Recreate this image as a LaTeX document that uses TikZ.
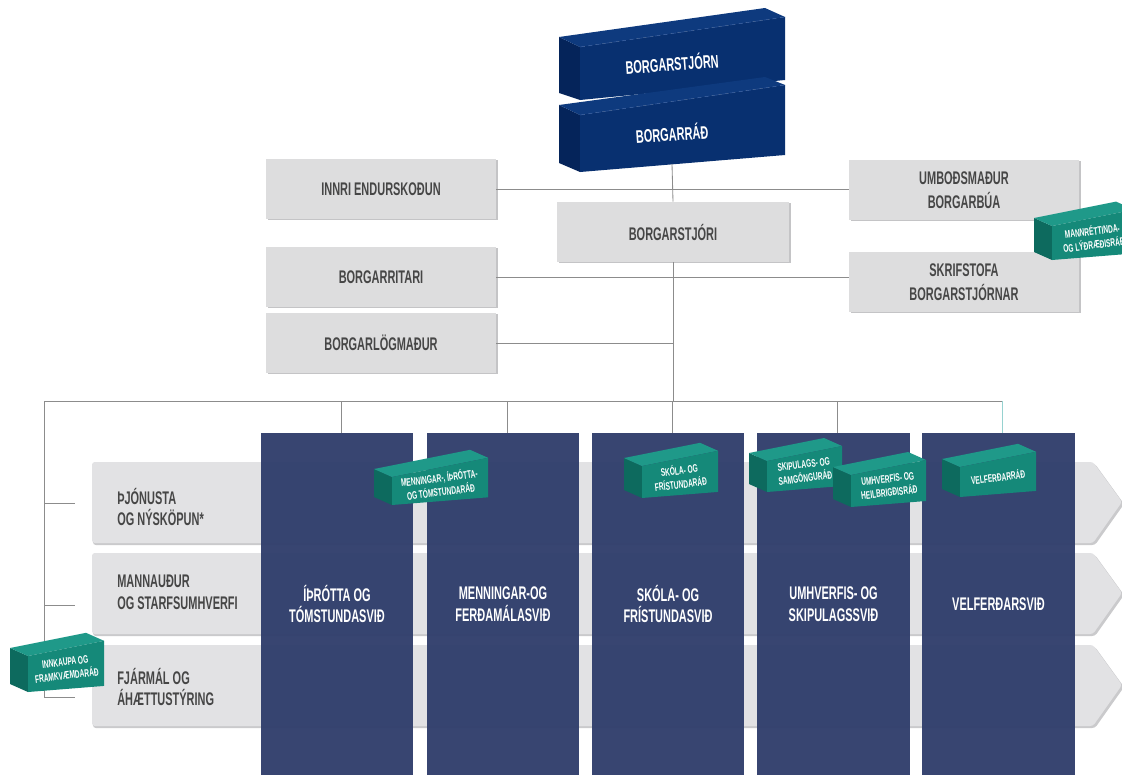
\documentclass[tikz,border=0pt]{standalone}
\usepackage{fontspec}
\newfontfamily\condfont{Liberation Sans}[FakeStretch=0.6]
\usetikzlibrary{shadows}

\definecolor{navyfront}{RGB}{8,48,112}
\definecolor{navytop}{RGB}{14,58,126}
\definecolor{navyside}{RGB}{5,36,90}
\definecolor{navyline}{RGB}{48,88,156}
\definecolor{boxgrey}{RGB}{221,221,222}
\definecolor{boxedge}{RGB}{196,196,198}
\definecolor{rowgrey}{RGB}{226,226,228}
\definecolor{rowedge}{RGB}{202,202,204}
\definecolor{colnavy}{RGB}{48,62,108}
\definecolor{tealfront}{RGB}{21,137,121}
\definecolor{tealtop}{RGB}{31,153,137}
\definecolor{tealside}{RGB}{13,106,94}
\definecolor{greytext}{RGB}{70,70,70}
\definecolor{linegrey}{RGB}{140,140,140}
\definecolor{lineteal}{RGB}{150,210,208}

\tikzset{
  greybox/.style={fill=boxgrey, text=greytext, minimum width=5.75cm, minimum height=1.5cm,
    inner sep=0pt, align=center, font=\condfont\bfseries\fontsize{13}{17}\selectfont,
    general shadow={fill=boxedge, shadow xshift=1.3pt, shadow yshift=-1pt}},
  colbox/.style={fill=colnavy, fill opacity=0.96, text opacity=1, text=white,
    minimum width=3.82cm, minimum height=8.55cm, inner sep=0pt, align=center,
    font=\condfont\bfseries\fontsize{13}{15.5}\selectfont},
  rowtext/.style={anchor=west, align=left, text=greytext, inner sep=0pt,
    font=\condfont\bfseries\fontsize{13}{15.5}\selectfont},
  navytext/.style={text=white, rotate=4, inner sep=0pt,
    font=\condfont\bfseries\fontsize{13}{15.5}\selectfont},
  tealtext/.style={text=white, rotate=7, inner sep=0pt, align=center,
    font=\condfont\bfseries\fontsize{7.8}{9.8}\selectfont}
}

% teal block: name, front top-left x, y, width, height, text
\newcommand{\tealblock}[6]{%
  \fill[tealside] (#2,#3) -- ++(-18,-8) -- ++(0,#5) -- ++(18,8) -- cycle;
  \fill[tealtop] (#2,#3) -- ++(-18,-8) -- ++(#4,-0.2*#4) -- ++(18,8) -- cycle;
  \fill[tealfront] (#2,#3) -- ++(#4,-0.2*#4) -- ++(0,#5+0.12*#4) -- ++(-#4,0.08*#4) -- cycle;
  \node[tealtext] (#1) at (#2+0.5*#4, #3+0.5*#5-0.07*#4) {#6};
}

\begin{document}
\begin{tikzpicture}[x=0.025cm, y=-0.025cm]
\useasboundingbox (0,0) rectangle (1122,775);
\clip (0,0) rectangle (1122,775);
\fill[white] (0,0) rectangle (1122,775);

% rows
\begin{scope}[rounded corners=2pt]
  \foreach \t in {462,553,645} {
    \fill[rowedge] (93,\t+2) -- (1095,\t+2) -- (1124,\t+42) -- (1095,\t+83) -- (93,\t+83) -- cycle;
    \fill[rowgrey] (92,\t) -- (1093,\t) -- (1122,\t+40) -- (1093,\t+81) -- (92,\t+81) -- cycle;
  }
\end{scope}
\node[rowtext] (service) at (117,507) {ÞJÓNUSTA\\OG NÝSKÖPUN*};
\node[rowtext] (people) at (117,592) {MANNAUÐUR\\OG STARFSUMHVERFI};
\node[rowtext] (finance) at (117,687) {FJÁRMÁL OG\\ÁHÆTTUSTÝRING};

% departments
\node[colbox] (sport) at (337,604) {ÍÞRÓTTA OG\\TÓMSTUNDASVIÐ};
\node[colbox] (culture) at (503,604) {MENNINGAR-OG\\FERÐAMÁLASVIÐ};
\node[colbox] (school) at (668,604) {SKÓLA- OG\\FRÍSTUNDASVIÐ};
\node[colbox] (environ) at (833.5,604) {UMHVERFIS- OG\\SKIPULAGSSVIÐ};
\node[colbox] (welfare) at (998.5,604) {VELFERÐARSVIÐ};

% central offices
\node[greybox] (audit) at (381,189) {INNRI ENDURSKOÐUN};
\node[greybox, minimum width=5.8cm] (mayor) at (673,232) {BORGARSTJÓRI};
\node[greybox] (ombud) at (964,190) {UMBOÐSMAÐUR\\BORGARBÚA};
\node[greybox] (secretary) at (381,277) {BORGARRITARI};
\node[greybox] (office) at (964,282) {SKRIFSTOFA\\BORGARSTJÓRNAR};
\node[greybox] (lawyer) at (381,343) {BORGARLÖGMAÐUR};

% city council blocks
\fill[navyside] (559,37) -- (580,47) -- (580,100) -- (559,93) -- cycle;
\fill[navytop] (559,37) -- (765,8) -- (785,17) -- (580,47) -- cycle;
\fill[navyfront] (580,47) -- (785,17) -- (785,80) -- (580,100) -- cycle;
\draw[navyline, dashed, line width=0.4pt] (580,47) -- (785,17);
\node[navytext] (council) at (672,63) {BORGARSTJÓRN};

\fill[navyside] (559,105) -- (580,115) -- (580,172) -- (559,163) -- cycle;
\fill[navytop] (559,105) -- (765,77) -- (785,85) -- (580,115) -- cycle;
\fill[navyfront] (580,115) -- (785,85) -- (785,155) -- (580,172) -- cycle;
\draw[navyline, dashed, line width=0.4pt] (580,115) -- (785,85);
\node[navytext] (cityboard) at (672,133) {BORGARRÁÐ};

\coordinate (boardfoot) at (672,164);
\coordinate (bus-l) at (44,401);
\coordinate (foot) at (44,697);
\coordinate (tick1) at (75,503);
\coordinate (tick2) at (75,605);
\coordinate (tick3) at (75,697);

\begin{scope}[every edge/.style={draw=linegrey, line width=0.6pt}]
    \path [-] (boardfoot) edge (mayor.north);
    \path [-] (mayor.south) edge (mayor.south |- bus-l);
    \path [-] (audit.east) edge (audit.east -| ombud.west);
    \path [-] (secretary.east) edge (secretary.east -| office.west);
    \path [-] (lawyer.east) edge (lawyer.east -| mayor.south);
    \path [-] (bus-l) edge ([xshift=0.1cm]welfare.north |- bus-l);
    \path [-] (bus-l) edge (foot);
    \path [-] (tick1 -| bus-l) edge (tick1);
    \path [-] (tick2 -| bus-l) edge (tick2);
    \path [-] (tick3 -| bus-l) edge (tick3);
    \foreach \c in {sport,culture,school,environ}
      \path [-] ([xshift=0.1cm]\c.north) edge ([xshift=0.1cm]\c.north |- bus-l);
    \path [-] ([xshift=0.1cm]welfare.north) edge[draw=lineteal] ([xshift=0.1cm]welfare.north |- bus-l);
\end{scope}

% councils
\tealblock{culturecouncil}{392}{477}{96}{28}{MENNINGAR-, ÍÞRÓTTA-\\OG TÓMSTUNDARÁÐ}
\tealblock{schoolcouncil}{642}{466}{76}{32}{SKÓLA- OG\\FRÍSTUNDARÁÐ}
\tealblock{plancouncil}{767}{461}{75}{31}{SKIPULAGS- OG\\SAMGÖNGURÁÐ}
\tealblock{healthcouncil}{851}{475}{75}{32}{UMHVERFIS- OG\\HEILBRIGÐISRÁÐ}
\tealblock{welfarecouncil}{960}{467}{76}{30}{VELFERÐARRÁÐ}
\tealblock{rightscouncil}{1052}{226}{82}{34}{MANNRÉTTINDA-\\OG LÝÐRÆÐISRÁÐ}
\tealblock{buycouncil}{28}{656}{76}{36}{INNKAUPA OG\\FRAMKVÆMDARÁÐ}
\end{tikzpicture}
\end{document}
